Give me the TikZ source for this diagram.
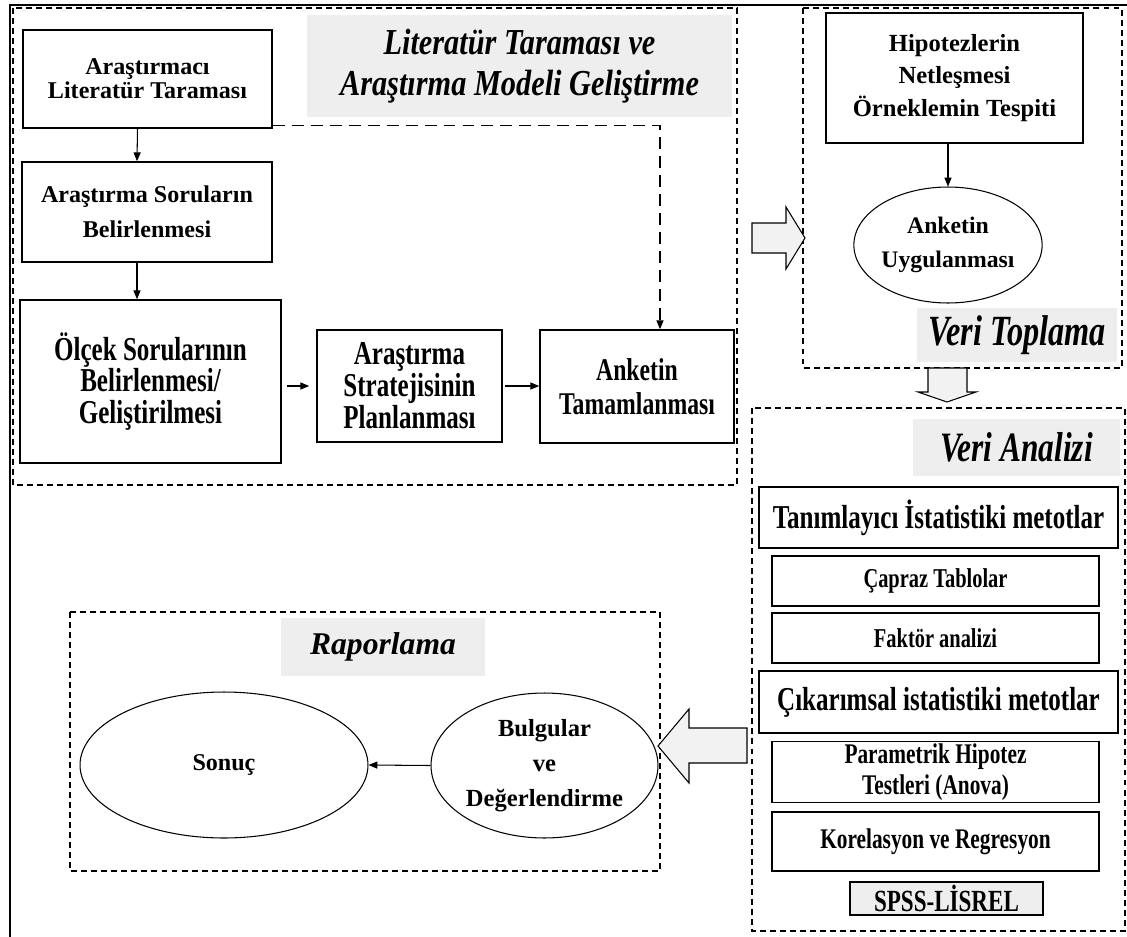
\documentclass[tikz,border=0pt]{standalone}
\usepackage{fontspec}
\setmainfont{Liberation Serif}
\newfontfamily\condfont[FakeStretch=0.75]{Liberation Serif}
\newfontfamily\headfont[FakeStretch=0.83]{Liberation Serif}
\usetikzlibrary{arrows.meta,shapes.geometric,positioning,calc}
\newcommand\fsz[2]{\fontsize{#1}{#2}\selectfont}

\begin{document}
\begin{tikzpicture}[x=0.02cm, y=-0.02cm,
    box/.style={draw, line width=0.9pt, align=center, inner sep=1pt},
    oval/.style={draw, ellipse, line width=0.6pt, align=center, inner sep=0pt},
    head/.style={fill=gray!13, align=center, inner sep=0pt},
    nfont/.style 2 args={font=\bfseries\fsz{#1}{#2}},
    cfont/.style 2 args={font=\condfont\bfseries\fsz{#1}{#2}},
    hfont/.style 2 args={font=\condfont\bfseries\itshape\fsz{#1}{#2}},
    frame/.style={dash pattern=on 3.4pt off 2.3pt, line width=0.6pt},
    arr/.style={-{Triangle[length=5pt,width=4pt]}, line width=0.6pt},
    blk/.style={draw, line width=0.6pt, fill=gray!10}
]
\useasboundingbox (0,0) rectangle (1127,937);

% outer frame and dashed regions
\draw[line width=1.1pt] (10,937) -- (10,5) -- (1127,5);
\draw[frame] (13,8) rectangle (737,485);
\draw[frame] (803,8) rectangle (1122,368);
\draw[frame] (752,408) rectangle (1125,931);
\draw[frame] (70,612) rectangle (660,871);

% Literatur taramasi
\node[head, font=\headfont\bfseries\itshape\fsz{20.8}{23}, minimum width=8.5cm, minimum height=2.04cm] (litbaslik) at (519.5,66) {Literatür Taraması ve\\Araştırma Modeli Geliştirme};
\node[box, nfont={13.7}{13.5}, minimum width=4.98cm, minimum height=1.96cm] (arast) at (147.5,79) {Araştırmacı\\Literatür Taraması};
\node[box, nfont={13.7}{20}, minimum width=5cm, minimum height=2cm] (soru) at (147,212) {Araştırma Soruların\\Belirlenmesi};
\node[box, cfont={19}{18}, minimum width=5.22cm, minimum height=3.26cm] (olcek) at (150.5,381.5) {Ölçek Sorularının\\Belirlenmesi/\\Geliştirilmesi};
\node[box, cfont={19}{16.7}, minimum width=3.7cm, minimum height=2.24cm] (strat) at (409.5,386) {Araştırma\\Stratejisinin\\Planlanması};
\node[box, cfont={18}{19}, minimum width=3.88cm, minimum height=2.26cm] (tamam) at (637,386.5) {Anketin\\Tamamlanması};

\draw[arr] ([xshift=-0.2cm]arast.south) -- ([xshift=-0.2cm]soru.north);
\draw[arr] ([xshift=-0.2cm]soru.south) -- ([xshift=-0.2cm]soru.south |- olcek.north);
\draw[arr, shorten <=3pt, shorten >=4pt] (olcek.east |- strat.west) -- (strat.west);
\draw[arr, shorten <=1pt] (strat.east) -- (tamam.west |- strat.east);
\draw[arr, dash pattern=on 6.8pt off 4pt] ([yshift=0.06cm]arast.south east) -| ([xshift=0.46cm]tamam.north);

% Veri toplama
\node[box, nfont={14}{18.5}, minimum width=5.14cm, minimum height=2.6cm] (hipo) at (954.5,78) {Hipotezlerin\\Netleşmesi\\Örneklemin Tespiti};
\node[oval, nfont={13.5}{19}, minimum width=3.74cm, minimum height=2.32cm] (uygula) at (948,245) {Anketin\\Uygulanması};
\node[head, hfont={24.5}{24}, minimum width=4cm, minimum height=1.08cm] (toplama) at (1017,335) {Veri Toplama};
\draw[arr] (uygula.north |- hipo.south) -- (uygula.north);

% Veri analizi
\node[head, hfont={23.8}{24}, minimum width=4.14cm, minimum height=1.14cm] (analiz) at (1016.5,447.5) {Veri Analizi};
\node[box, cfont={19}{20}, minimum width=7.18cm, minimum height=1.22cm] (tanim) at (938.5,517.5) {Tanımlayıcı İstatistiki metotlar};
\node[box, cfont={15.5}{17}, minimum width=6.54cm, minimum height=1cm] (capraz) at (935.5,581) {Çapraz Tablolar};
\node[box, cfont={15.5}{17}, minimum width=6.54cm, minimum height=1cm] (faktor) at (935.5,638) {Faktör analizi};
\node[box, cfont={19}{20}, minimum width=7.18cm, minimum height=1.24cm] (cikar) at (938.5,702) {Çıkarımsal istatistiki metotlar};
\node[box, cfont={16.2}{18}, minimum width=6.54cm, minimum height=1.2cm] (param) at (935.5,772) {Parametrik Hipotez\\Testleri (Anova)};
\node[box, cfont={16.2}{17}, minimum width=6.54cm, minimum height=1.18cm] (korel) at (935.5,841.5) {Korelasyon ve Regresyon};
\node[box, cfont={17.5}{18}, fill=gray!13, line width=0.7pt, inner sep=0pt, minimum width=3.86cm, minimum height=0.66cm] (spss) at (946.5,898.5) {SPSS-LİSREL};

% Raporlama
\node[head, font=\bfseries\itshape\fsz{18}{20}, minimum width=4.08cm, minimum height=1.16cm] (rapor) at (383,647) {Raporlama};
\node[oval, nfont={13.7}{20}, minimum width=5.76cm, minimum height=2.92cm] (sonuc) at (224,765) {Sonuç};
\node[oval, nfont={14}{20}, minimum width=4.54cm, minimum height=2.9cm] (bulgu) at (544.5,765.5) {Bulgular\\ve\\Değerlendirme};
\draw[arr] (bulgu.west) -- (sonuc.east);

% block arrows between stages
\draw[blk] (752,223) -- (786,223) -- (786,207) -- (805,238) -- (786,269) -- (786,253) -- (752,253) -- cycle;
\draw[blk] (928,368) -- (967,368) -- (967,392) -- (976,392) -- (947,402) -- (918,392) -- (928,392) -- cycle;
\draw[blk] (747,728) -- (689,728) -- (689,709) -- (658,746) -- (689,783) -- (689,763) -- (747,763) -- cycle;
\end{tikzpicture}
\end{document}
